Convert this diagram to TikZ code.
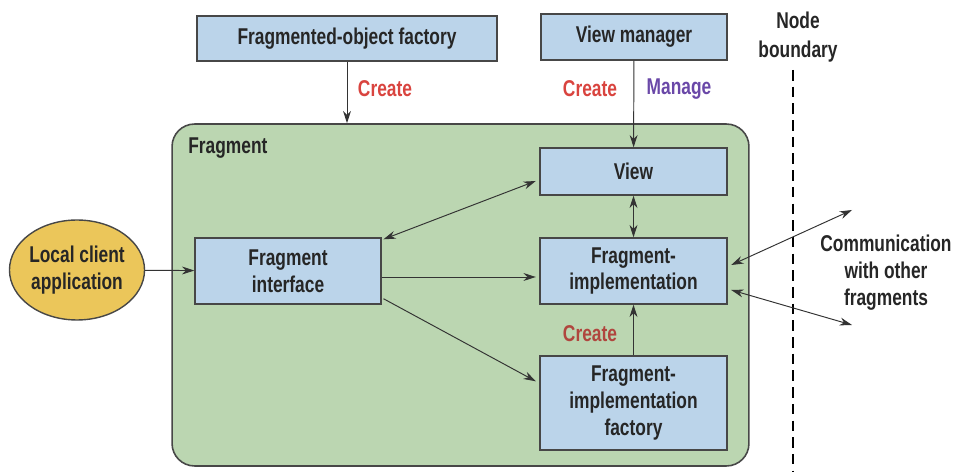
\documentclass[tikz,border=0pt]{standalone}
\usepackage{fontspec}
\setmainfont[FakeStretch=0.76]{Liberation Sans}
\usetikzlibrary{arrows.meta,shapes.geometric}
\definecolor{boxblue}{HTML}{BBD4EA}
\definecolor{fraggreen}{HTML}{BBD6B1}
\definecolor{clientyellow}{HTML}{EBC65A}
\definecolor{edgegray}{HTML}{474747}
\definecolor{createred}{HTML}{D9443F}
\definecolor{innerred}{HTML}{B0463E}
\definecolor{managepurple}{HTML}{6A48A8}
\tikzset{
	comp/.style={draw=edgegray,line width=0.8pt,fill=boxblue,align=center,inner sep=0pt,
		font=\bfseries\fontsize{13}{15.3}\selectfont,text=black!85},
	client/.style={ellipse,draw=edgegray,line width=0.8pt,fill=clientyellow,align=center,inner sep=0pt,
		font=\bfseries\fontsize{13}{15.3}\selectfont,text=black!85},
	fragbox/.style={draw=edgegray,line width=0.9pt,fill=fraggreen,rounded corners=0.45cm,inner sep=0pt},
	plain/.style={align=center,inner sep=0pt,font=\bfseries\fontsize{13}{15.3}\selectfont,text=black!85},
	msg/.style={inner sep=0pt,font=\bfseries\fontsize{13}{15.3}\selectfont},
	link/.style={draw=black!80,line width=0.55pt,-{Stealth[length=7pt,width=4.5pt]}},
	twoway/.style={draw=black!80,line width=0.55pt,{Stealth[length=7pt,width=4.5pt]}-{Stealth[length=7pt,width=4.5pt]}}
}

\begin{document}
\begin{tikzpicture}[x=0.02cm,y=-0.02cm]
		\useasboundingbox (0,0) rectangle (963,472);
		
		\node[fragbox,minimum width=11.54cm,minimum height=6.84cm] (frag) at (460.5,295) {};
		\node[plain,anchor=west] (fraglabel) at (188,148) {Fragment};
		
		\node[comp,minimum width=6cm,minimum height=0.9cm] (ofactory) at (347,38.5) {Fragmented-object factory};
		\node[comp,minimum width=3.72cm,minimum height=0.92cm] (vmgr) at (634,37) {View manager};
		\node[comp,minimum width=3.74cm,minimum height=0.94cm] (view) at (633.5,171.5) {View};
		\node[comp,minimum width=3.74cm,minimum height=1.32cm] (impl) at (633.5,271) {Fragment-\\implementation};
		\node[comp,minimum width=3.74cm,minimum height=1.88cm] (fimpl) at (633.5,403) {Fragment-\\implementation\\factory};
		\node[comp,minimum width=3.72cm,minimum height=1.32cm] (ifc) at (288,271) {Fragment\\interface};
		\node[client,minimum width=2.7cm,minimum height=2cm] (app) at (77,270) {Local client\\application};
		
		\node[plain,font=\bfseries\fontsize{13}{16.5}\selectfont] (bnd) at (798,37) {Node\\boundary};
		\node[plain] (comm) at (886,273) {Communication\\with other\\fragments};
		
		\node[msg,text=createred] (c1) at (385,89) {Create};
		\node[msg,text=createred] (c2) at (590,89) {Create};
		\node[msg,text=managepurple] (m1) at (679,89) {Manage};
		\node[msg,text=innerred] (c3) at (590,334) {Create};
		
		\coordinate (bndtop) at (793,70);
		\coordinate (bndbot) at (793,472);
		\coordinate (peerA) at (852,210);
		\coordinate (peerB) at (852,325);
		
		\draw[line width=1.6pt,dash pattern=on 6pt off 3.5pt] (bndtop) -- (bndbot);
		
		\path[link] (ofactory.south) -- (ofactory.south |- frag.north);
		\path[link] (vmgr) -- (view);
		\path[link] (app) -- (ifc);
		\path[twoway] ([xshift=1pt,yshift=-0.04cm]ifc.north east) -- ([xshift=-2pt,yshift=-0.19cm]view.west);
		\path[link] ([yshift=-0.12cm]ifc.east) -- ([xshift=-2pt,yshift=-0.12cm]impl.west);
		\path[link] ([xshift=1pt,yshift=0.12cm]ifc.south east) -- ([xshift=-2pt,yshift=-0.52cm]fimpl.north west);
		\path[twoway] (view) -- (impl);
		\path[link] (fimpl) -- (impl);
		\path[twoway] ([xshift=2pt,yshift=0.12cm]impl.east) -- (peerA);
		\path[twoway] ([xshift=2pt,yshift=-0.38cm]impl.east) -- (peerB);
		
\end{tikzpicture}
\end{document}
